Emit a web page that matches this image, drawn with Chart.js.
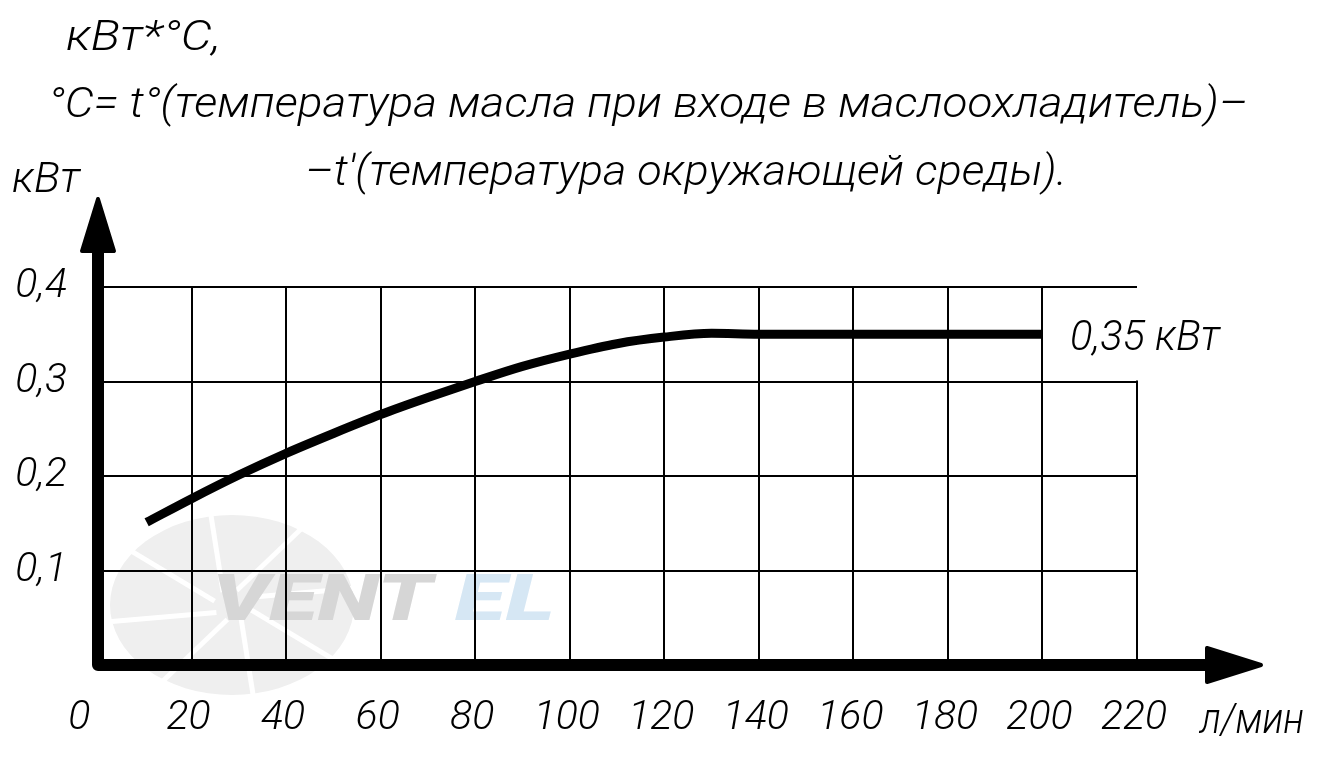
<!DOCTYPE html>
<html>
<head>
<meta charset="utf-8">
<script src="https://cdn.jsdelivr.net/npm/chart.js@4/dist/chart.umd.min.js"></script>
<style>
  html, body { margin: 0; padding: 0; background: #fff; }
  #wrap { width: 1321px; height: 763px; position: relative; }
</style>
</head>
<body>
<div id="wrap"><canvas id="c" width="1321" height="763"></canvas></div>
<script>
// ---- data ----
const flowValues  = [10.5, 20, 30, 40, 50, 60, 70, 80, 90, 100, 110, 120, 130, 140, 160, 180, 200];
const powerValues = [0.151, 0.176, 0.201, 0.224, 0.245, 0.265, 0.283, 0.300, 0.316, 0.329, 0.340, 0.347, 0.351, 0.350, 0.350, 0.350, 0.350];
const xTicks = [0, 20, 40, 60, 80, 100, 120, 140, 160, 180, 200, 220];
const yTicks = [0, 0.1, 0.2, 0.3, 0.4];
const titleLines = [
  'кВт*°С,',
  '°С= t°(температура масла при входе в маслоохладитель)–',
  '–t\'(температура окружающей среды).'
];
const yUnit = 'кВт';
const xUnit = 'л/мин';
const endLabel = '0,35 кВт';
const watermark = ['VENT', 'EL'];

const FONT = 'Roboto, "Liberation Sans", sans-serif';

function drawFit(ctx, text, left, baseline, width, size, font, color) {
  ctx.save();
  ctx.font = (font || 'italic 300 ') + size + 'px ' + FONT;
  ctx.textBaseline = 'alphabetic';
  ctx.textAlign = 'left';
  ctx.fillStyle = color || '#000';
  const w = ctx.measureText(text).width;
  const sx = width / w;
  ctx.translate(left, baseline);
  ctx.scale(sx, 1);
  ctx.fillText(text, 0, 0);
  ctx.restore();
}

const decor = {
  id: 'decor',
  beforeDraw(chart) {
    const ctx = chart.ctx;
    // faint fan logo
    ctx.save();
    const cx = 232, cy = 605, r = 108;
    ctx.fillStyle = '#efefef';
    ctx.beginPath();
    ctx.ellipse(cx, cy, r + 14, r - 18, 0, 0, Math.PI * 2);
    ctx.fill();
    ctx.strokeStyle = '#ffffff';
    ctx.lineWidth = 5;
    const angles = [15, 60, 105, 150, 195, 240, 285, 330];
    angles.forEach(a => {
      const t = a * Math.PI / 180;
      ctx.beginPath();
      ctx.moveTo(cx + Math.cos(t) * 18, cy + Math.sin(t) * 15);
      ctx.lineTo(cx + Math.cos(t + 0.35) * (r + 20), cy + Math.sin(t + 0.35) * (r - 10));
      ctx.stroke();
    });
    ctx.restore();
    // watermark text
    drawFit(ctx, watermark[0], 212, 620, 220, 64, 'italic 900 ', '#d6d6d6');
    drawFit(ctx, watermark[1], 455, 620, 100, 64, 'italic 900 ', '#d6e7f4');
  },
  afterDraw(chart) {
    const ctx = chart.ctx;
    const xs = chart.scales.x, ys = chart.scales.y;
    const x0 = xs.getPixelForValue(0), y0 = ys.getPixelForValue(0);
    // partial vertical line at 220 (0 .. 0.3)
    ctx.save();
    ctx.strokeStyle = '#000';
    ctx.lineWidth = 2;
    const x220 = Math.round(xs.getPixelForValue(220));
    ctx.beginPath();
    ctx.moveTo(x220, y0);
    ctx.lineTo(x220, ys.getPixelForValue(0.3) - 1);
    ctx.stroke();

    // thick axes
    ctx.fillStyle = '#000';
    ctx.lineJoin = 'round';
    ctx.lineCap = 'round';
    ctx.lineWidth = 12;
    ctx.beginPath();
    ctx.moveTo(x0 + 1, 245);
    ctx.lineTo(x0 + 1, y0);
    ctx.lineTo(1206, y0);
    ctx.stroke();
    // y arrow head
    ctx.lineWidth = 4;
    ctx.beginPath();
    ctx.moveTo(x0 + 1, 199);
    ctx.lineTo(x0 + 17, 251);
    ctx.lineTo(x0 - 15, 251);
    ctx.closePath();
    ctx.fill();
    ctx.stroke();
    // x arrow head
    ctx.beginPath();
    ctx.moveTo(1261, y0);
    ctx.lineTo(1207, y0 - 17);
    ctx.lineTo(1207, y0 + 17);
    ctx.closePath();
    ctx.fill();
    ctx.stroke();
    ctx.restore();

    // texts
    drawFit(ctx, titleLines[0], 66, 50, 155, 42);
    drawFit(ctx, titleLines[1], 48, 117, 1200, 42);
    drawFit(ctx, titleLines[2], 305, 185, 762, 42);
    drawFit(ctx, yUnit, 12, 192, 68, 42);
    drawFit(ctx, endLabel, 1070, 350, 150, 42);
    drawFit(ctx, xUnit, 1200, 733, 104, 42);
  }
};

const points = flowValues.map((x, i) => ({ x: x, y: powerValues[i] }));

new Chart(document.getElementById('c'), {
  type: 'line',
  data: {
    datasets: [{
      data: points,
      borderColor: '#000',
      borderWidth: 9,
      borderCapStyle: 'butt',
      pointRadius: 0,
      cubicInterpolationMode: 'monotone',
      fill: false
    }]
  },
  options: {
    responsive: false,
    animation: false,
    events: [],
    layout: { padding: { top: 287, right: 184, left: 0, bottom: 0 } },
    plugins: { legend: { display: false }, tooltip: { enabled: false }, title: { display: false } },
    scales: {
      x: {
        type: 'linear',
        min: 0, max: 220,
        afterBuildTicks: s => { s.ticks = xTicks.map(v => ({ value: v })); },
        afterFit: s => { s.height = 98; },
        border: { display: false },
        grid: {
          drawTicks: false,
          lineWidth: 2,
          color: c => (c.tick && (c.tick.value === 0 || c.tick.value === 220)) ? 'rgba(0,0,0,0)' : '#000'
        },
        ticks: {
          padding: 29,
          labelOffset: -3,
          color: '#000',
          font: { family: FONT, size: 41, style: 'italic', weight: '300' },
          callback: v => (v === 0 ? '0   ' : String(v))
        }
      },
      y: {
        type: 'linear',
        min: 0, max: 0.4,
        afterBuildTicks: s => { s.ticks = yTicks.map(v => ({ value: v })); },
        afterFit: s => { s.width = 97; },
        border: { display: false },
        grid: {
          drawTicks: false,
          lineWidth: 2,
          color: c => (c.tick && c.tick.value === 0) ? 'rgba(0,0,0,0)' : '#000'
        },
        ticks: {
          padding: 30,
          color: '#000',
          font: { family: FONT, size: 41, style: 'italic', weight: '300' },
          callback: v => (v === 0 ? '' : v.toFixed(1).replace('.', ','))
        }
      }
    }
  },
  plugins: [decor]
});
</script>
</body>
</html>
